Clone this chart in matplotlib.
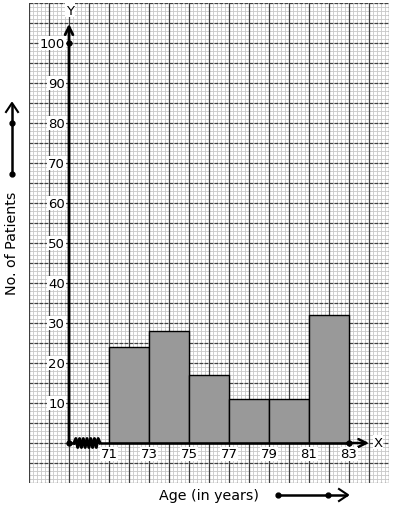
import numpy as np
import matplotlib
matplotlib.use("Agg")
import matplotlib.pyplot as plt
from matplotlib.lines import Line2D

# Data
bin_edges = [71, 73, 75, 77, 79, 81, 83]
counts = [24, 28, 17, 11, 11, 32]
y_ticks = [10, 20, 30, 40, 50, 60, 70, 80, 90, 100]
x_ticks = [71, 73, 75, 77, 79, 81, 83]
x_label = "Age (in years)"
y_label = "No. of Patients"

W, H = 394, 510
fig = plt.figure(figsize=(W / 100, H / 100), dpi=100)
fig.patch.set_facecolor("white")
ax = fig.add_axes([29 / W, (H - 484) / H, 360 / W, 480 / H])
xmin, xmax, ymin, ymax = 67, 85, -10, 110
ax.set_xlim(xmin, xmax)
ax.set_ylim(ymin, ymax)
ax.axis("off")

# graph paper
for xv in np.arange(xmin, xmax + 0.001, 0.2):
    ax.axvline(xv, color="#c8c8c8", lw=0.6, zorder=0)
for yv in np.arange(ymin, ymax + 0.001, 1):
    ax.axhline(yv, color="#c8c8c8", lw=0.6, zorder=0)
for xv in np.arange(xmin, xmax + 0.001, 1):
    ax.axvline(xv, color="#404040", lw=0.9, zorder=0.5)
for yv in np.arange(ymin, ymax + 0.001, 5):
    ax.axhline(yv, color="#404040", lw=0.9, zorder=0.5, linestyle=(0, (3, 1)))

# bars
widths = np.diff(bin_edges)
ax.bar(bin_edges[:-1], counts, width=widths, align="edge", color="#999999",
       edgecolor="black", linewidth=1.0, zorder=2)

# axes lines
ax.annotate("", xy=(69, 104.8), xytext=(69, 0), zorder=4,
            arrowprops=dict(arrowstyle="->", lw=2.0, color="black",
                            mutation_scale=14, shrinkA=0, shrinkB=0))
ax.plot([70.55, 83], [0, 0], color="black", lw=1.8, zorder=4, solid_capstyle="butt")
ax.annotate("", xy=(84.0, 0), xytext=(82.9, 0), zorder=4,
            arrowprops=dict(arrowstyle="->", lw=1.8, color="black",
                            mutation_scale=14, shrinkA=0, shrinkB=0))
# zigzag kink
zx = np.linspace(69.25, 70.55, 15)
zy = np.array([0, 1, -1, 1, -1, 1, -1, 1, -1, 1, -1, 1, -1, 1, 0]) * 1.1
ax.plot([69, 69.25], [0, 0], color="black", lw=1.8, zorder=4)
ax.plot(zx, zy, color="black", lw=2.2, zorder=4)
ax.plot([69, 69, 83], [0, 100, 0], "o", color="black", ms=3.5, zorder=5)

ax.text(69.05, 108.2, "Y", ha="center", va="center", fontsize=9.5,
        bbox=dict(facecolor="white", edgecolor="none", pad=0.5), zorder=6)
ax.text(84.45, 0.2, "X", ha="center", va="center", fontsize=9.5,
        bbox=dict(facecolor="white", edgecolor="none", pad=0.5), zorder=6)

tb = dict(facecolor="white", edgecolor="none", pad=0.6)
for t in y_ticks:
    ax.text(68.8, t, str(t), ha="right", va="center", fontsize=9.5, bbox=tb, zorder=6)
for t in x_ticks:
    ax.text(t, -1.1, str(t), ha="center", va="top", fontsize=9.5, bbox=tb, zorder=6)

# outside labels
fig.text(12 / W, 1 - 243 / H, y_label, rotation=90, ha="center", va="center", fontsize=10.3)
fig.text(209 / W, 1 - 496 / H, x_label, ha="center", va="center", fontsize=10.3)

# decorative arrows outside
fig.add_artist(Line2D([12 / W, 12 / W], [1 - 175 / H, 1 - 106 / H], color="black", lw=1.8))
fig.add_artist(Line2D([6 / W, 12 / W, 18 / W], [1 - 113 / H, 1 - 104 / H, 1 - 113 / H],
                      color="black", lw=1.5))
fig.add_artist(Line2D([12 / W, 12 / W], [1 - 175 / H, 1 - 124 / H], color="black",
                      lw=0, marker="o", ms=3.5))
fig.add_artist(Line2D([278 / W, 346 / W], [1 - 496 / H, 1 - 496 / H], color="black", lw=1.8))
fig.add_artist(Line2D([339 / W, 348 / W, 339 / W], [1 - 490 / H, 1 - 496 / H, 1 - 502 / H],
                      color="black", lw=1.5))
fig.add_artist(Line2D([278 / W, 328 / W], [1 - 496 / H, 1 - 496 / H], color="black",
                      lw=0, marker="o", ms=3.5))

fig.savefig("out.png", dpi=100)
